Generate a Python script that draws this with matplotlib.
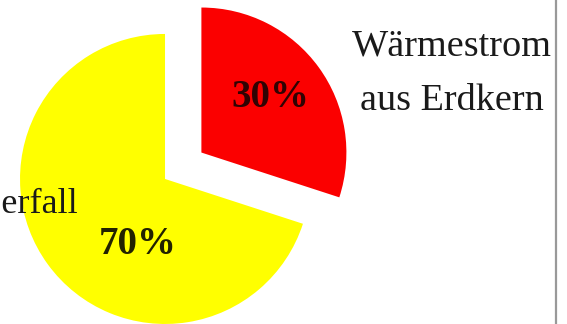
import matplotlib.pyplot as plt
from matplotlib.lines import Line2D

# shares of the geothermal heat flow (percent)
shares = [30, 70]
labels = ["Wärmestrom\naus Erdkern", "Radioaktiver Zerfall"]
colors = ["#fb0000", "#ffff00"]
explode = [0.31, 0.0]

plt.rcParams["font.family"] = ["Liberation Serif", "DejaVu Serif"]

fig = plt.figure(figsize=(5.67, 3.24), dpi=100)
ax = fig.add_axes([0, 0, 1, 1])

wedges, texts, autotexts = ax.pie(
    shares,
    colors=colors,
    explode=explode,
    startangle=90,
    counterclock=False,
    radius=1.0,
    autopct="%1.0f%%",
    wedgeprops=dict(linewidth=0),
)

# percentage labels, placed as in the original slide
pct_pos = [(0.724, 0.497), (-0.19, -0.517)]
pct_col = ["#300303", "#222200"]
for t, pos, c in zip(autotexts, pct_pos, pct_col):
    t.set_position(pos)
    t.set_fontsize(28)
    t.set_fontweight("bold")
    t.set_color(c)
    t.set_ha("center")
    t.set_va("baseline")

# category labels
top, bottom = labels[0].split("\n")
ax.text(1.979, 0.848, top, fontsize=27.5, ha="center", va="baseline", color="#1a1a1a")
ax.text(1.979, 0.476, bottom, fontsize=27.5, ha="center", va="baseline", color="#1a1a1a")
# left label is cut off by the slide edge in the original
ax.text(-0.60, -0.234, labels[1], fontsize=26, ha="right", va="baseline",
        color="#1a1a1a", zorder=5)

ax.set_xlim(-1.138, 2.772)
ax.set_ylim(-1.0, 1.234)
ax.set_aspect("equal")
ax.axis("off")

# frame edge of the slide on the right
fig.add_artist(Line2D([0.9806, 0.9806], [0, 1], color="#999999", lw=1.6,
                      transform=fig.transFigure))

fig.savefig("out.png", dpi=100)
